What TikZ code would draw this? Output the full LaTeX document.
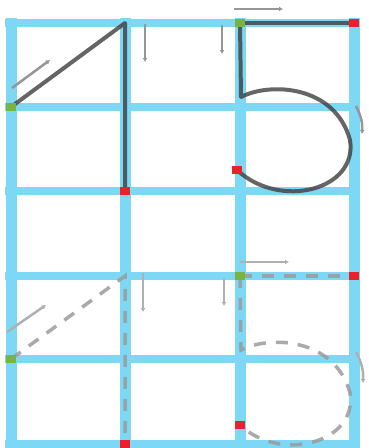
\documentclass[tikz,border=0pt]{standalone}
\usetikzlibrary{arrows.meta}
\definecolor{gridblue}{RGB}{125,216,245}
\definecolor{strokedark}{RGB}{62,62,62}
\definecolor{strokelight}{RGB}{155,155,155}
\definecolor{startgreen}{RGB}{118,182,64}
\definecolor{endred}{RGB}{236,32,40}
\definecolor{hintgray}{RGB}{150,150,150}
\tikzset{
  vgrid/.style={gridblue, line width=11pt},
  hgrid/.style={gridblue, line width=8pt},
  solidstroke/.style={strokedark, draw opacity=0.8, line width=4pt, line join=round},
  dashstroke/.style={strokelight, draw opacity=0.85, line width=3.5pt, dash pattern=on 12pt off 10pt},
  hint/.style={hintgray, line width=2.5pt, -{Latex[length=4pt,width=5pt]}},
  hintlight/.style={hintgray!75, line width=2.5pt, -{Latex[length=4pt,width=5pt]}},
  startdot/.style={fill=startgreen, draw=none, minimum width=10pt, minimum height=8pt, inner sep=0pt, rectangle},
  enddot/.style={fill=endred, draw=none, minimum width=10pt, minimum height=8pt, inner sep=0pt, rectangle}
}
\begin{document}
\begin{tikzpicture}[x=1pt,y=-1pt]
\useasboundingbox (0,0) rectangle (368,448);
% grid
\foreach \yy in {23,107,191,276,359,444} \draw[hgrid] (5,\yy) -- (360,\yy);
\foreach \xx in {11,125,240,354} \draw[vgrid] (\xx,18) -- (\xx,448);

% ---------- top (solid) ----------
\coordinate (oneS) at (11,107);
\coordinate (oneT) at (125,23);
\coordinate (oneE) at (125,191);
\coordinate (fiveS) at (240,23);
\coordinate (fiveK) at (241,97);
\coordinate (fiveE) at (237,170);
\coordinate (barE) at (354,23);
\draw[solidstroke] (oneS) -- (oneT) -- (oneE);
\draw[solidstroke] (fiveS) -- (fiveK) .. controls (270,82) and (335,85) .. (350,140) .. controls (358,190) and (280,210) .. (fiveE);
\draw[solidstroke] (fiveS) -- (barE);
% hints top
\coordinate (h1a) at (12,88);   \coordinate (h1b) at (50,60);
\coordinate (h2a) at (145,24);  \coordinate (h2b) at (145,62);
\coordinate (h3a) at (222,25);  \coordinate (h3b) at (222,54);
\coordinate (h4a) at (234,9);   \coordinate (h4b) at (283,9);
\coordinate (h5a) at (356,106); \coordinate (h5b) at (362,134);
\draw[hint] (h1a) -- (h1b);
\draw[hint] (h2a) -- (h2b);
\draw[hint] (h3a) -- (h3b);
\draw[hint] (h4a) -- (h4b);
\draw[hint] (h5a) to[bend left=15] (h5b);
% dots top
\node[startdot] (d1) at (oneS) {};
\node[enddot] (d2) at (oneE) {};
\node[startdot] (d3) at (fiveS) {};
\node[enddot] (d4) at (barE) {};
\node[enddot] (d5) at (fiveE) {};

% ---------- bottom (dashed) ----------
\coordinate (boneS) at (11,359);
\coordinate (boneT) at (125,276);
\coordinate (boneE) at (125,444);
\coordinate (bfiveS) at (240,276);
\coordinate (bfiveK) at (241,350);
\coordinate (bfiveE) at (240,425);
\coordinate (bbarE) at (354,276);
\draw[dashstroke] (boneS) -- (boneT) -- (boneE);
\draw[dashstroke] (bfiveS) -- (bfiveK) .. controls (270,335) and (335,338) .. (350,393) .. controls (358,443) and (280,463) .. (bfiveE);
\draw[dashstroke] (bfiveS) -- (bbarE);
% hints bottom
\coordinate (g1a) at (7,332);   \coordinate (g1b) at (46,305);
\coordinate (g2a) at (143,273); \coordinate (g2b) at (143,312);
\coordinate (g3a) at (224,278); \coordinate (g3b) at (224,306);
\coordinate (g4a) at (240,262); \coordinate (g4b) at (289,262);
\coordinate (g5a) at (356,352); \coordinate (g5b) at (363,383);
\draw[hintlight] (g1a) -- (g1b);
\draw[hintlight] (g2a) -- (g2b);
\draw[hintlight] (g3a) -- (g3b);
\draw[hintlight] (g4a) -- (g4b);
\draw[hintlight] (g5a) to[bend left=15] (g5b);
% dots bottom
\node[startdot] (e1) at (boneS) {};
\node[enddot] (e2) at (boneE) {};
\node[startdot] (e3) at (bfiveS) {};
\node[enddot] (e4) at (bbarE) {};
\node[enddot] (e5) at (bfiveE) {};
\end{tikzpicture}
\end{document}
